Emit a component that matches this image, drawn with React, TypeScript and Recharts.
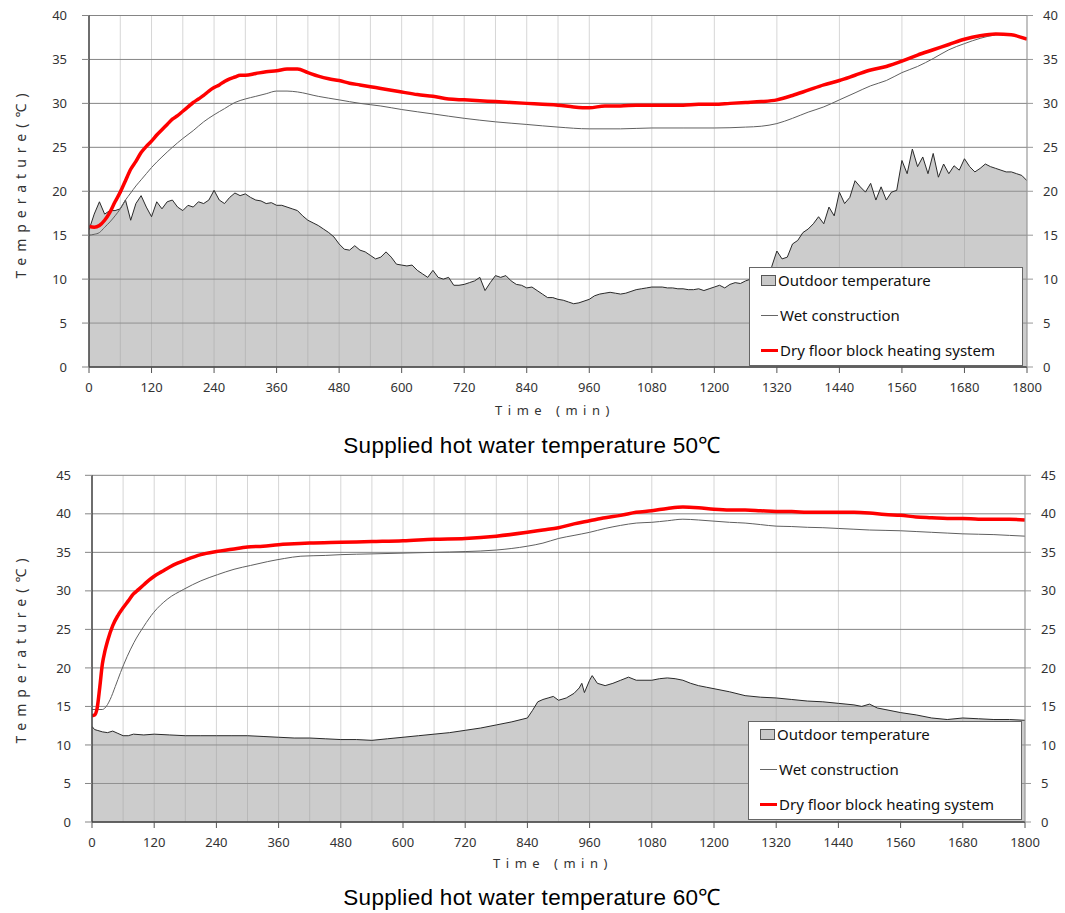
import React from 'react';
import { ComposedChart, Area, Line, XAxis, YAxis, CartesianGrid, Legend } from 'recharts';

// ---------- shared axis values ----------
const xTicks = [0, 120, 240, 360, 480, 600, 720, 840, 960, 1080, 1200, 1320, 1440, 1560, 1680, 1800];
const gridMinutes = [0, 60, 120, 180, 240, 300, 360, 420, 480, 540, 600, 660, 720, 780, 840, 900, 960, 1020,
  1080, 1140, 1200, 1260, 1320, 1380, 1440, 1500, 1560, 1620, 1680, 1740, 1800];
const topYTicks = [0, 5, 10, 15, 20, 25, 30, 35, 40];
const bottomYTicks = [0, 5, 10, 15, 20, 25, 30, 35, 40, 45];

const seriesNames = ['Outdoor temperature', 'Wet construction', 'Dry floor block heating system'];
const titles = ['Supplied hot water temperature 50℃', 'Supplied hot water temperature 60℃'];

// ---------- 50℃ panel ----------
// outdoor temperature sampled every 10 min from 0 to 1800
const TOP_OUTDOOR_STEP = 10;
const topOutdoor = [
  15.6, 17.4, 18.8, 17.4, 17.8, 17.8, 18.0, 19.0, 16.7, 18.6,
  19.5, 18.2, 17.1, 18.8, 18.0, 18.8, 19.0, 18.2, 17.8, 18.4,
  18.2, 18.8, 18.6, 19.0, 20.1, 19.0, 18.6, 19.3, 19.8, 19.5,
  19.7, 19.3, 19.0, 18.9, 18.6, 18.7, 18.4, 18.4, 18.2, 18.0,
  17.8, 17.2, 16.7, 16.4, 16.1, 15.7, 15.3, 14.8, 14.0, 13.4,
  13.3, 13.8, 13.3, 13.1, 12.7, 12.3, 12.5, 13.1, 12.5, 11.7,
  11.6, 11.5, 11.6, 11.0, 10.6, 10.2, 11.0, 10.2, 10.0, 10.2,
  9.3, 9.3, 9.4, 9.6, 9.8, 10.2, 8.7, 9.6, 10.4, 10.2,
  10.4, 9.8, 9.4, 9.3, 9.0, 9.1, 8.7, 8.3, 7.9, 7.9,
  7.7, 7.6, 7.4, 7.2, 7.3, 7.5, 7.7, 8.1, 8.3, 8.4,
  8.5, 8.4, 8.3, 8.4, 8.6, 8.8, 8.9, 9.0, 9.1, 9.1,
  9.1, 9.0, 9.0, 8.9, 8.9, 8.8, 8.8, 8.9, 8.7, 8.9,
  9.1, 9.3, 9.0, 9.4, 9.6, 9.5, 9.8, 10.0, 10.2, 10.5,
  10.8, 11.4, 13.2, 12.3, 12.5, 14.0, 14.4, 15.3, 15.7, 16.3,
  17.1, 16.3, 18.2, 17.2, 19.9, 18.6, 19.3, 21.2, 20.5, 19.9,
  20.9, 19.0, 20.5, 19.0, 19.9, 20.1, 23.5, 22.0, 24.8, 22.8,
  23.9, 22.0, 24.3, 21.6, 23.1, 22.0, 22.9, 22.4, 23.7, 22.8,
  22.2, 22.6, 23.1, 22.8, 22.6, 22.4, 22.2, 22.2, 22.0, 21.8,
  21.2,
];

const topWet: [number, number][] = [
  [0, 15.0], [10, 15.1], [20, 15.3], [30, 15.9], [40, 16.5], [50, 17.2], [60, 18.0], [70, 19.0],
  [80, 19.8], [90, 20.6], [100, 21.3], [110, 22.0], [120, 22.7], [140, 23.9], [160, 25.0], [180, 26.0],
  [200, 26.9], [220, 27.9], [240, 28.7], [260, 29.4], [280, 30.1], [300, 30.5], [320, 30.8], [340, 31.1],
  [360, 31.4], [380, 31.4], [400, 31.3], [440, 30.8], [480, 30.4], [520, 30.0], [560, 29.7], [600, 29.3],
  [660, 28.8], [720, 28.3], [780, 27.9], [840, 27.6], [900, 27.3], [960, 27.1], [1020, 27.1], [1080, 27.2],
  [1140, 27.2], [1200, 27.2], [1260, 27.3], [1290, 27.4], [1320, 27.7], [1350, 28.3], [1380, 29.0],
  [1410, 29.6], [1440, 30.4], [1470, 31.2], [1500, 32.0], [1530, 32.6], [1560, 33.5], [1590, 34.2],
  [1620, 35.1], [1650, 36.1], [1680, 36.8], [1710, 37.4], [1740, 37.8], [1760, 37.9], [1780, 37.7], [1800, 37.4],
];

const topDry: [number, number][] = [
  [0, 16.0], [10, 15.9], [20, 16.1], [30, 16.7], [40, 17.6], [50, 18.8], [60, 19.9], [70, 21.2],
  [80, 22.5], [90, 23.4], [100, 24.4], [110, 25.1], [120, 25.7], [130, 26.4], [140, 27.0], [150, 27.6],
  [160, 28.2], [170, 28.6], [180, 29.1], [190, 29.6], [200, 30.1], [210, 30.5], [220, 30.9], [230, 31.4],
  [240, 31.8], [250, 32.1], [260, 32.5], [270, 32.8], [280, 33.0], [290, 33.2], [300, 33.2], [320, 33.4],
  [340, 33.6], [360, 33.7], [380, 33.9], [400, 33.9], [420, 33.5], [440, 33.1], [460, 32.8], [480, 32.6],
  [500, 32.3], [520, 32.1], [540, 31.9], [560, 31.7], [580, 31.5], [600, 31.3], [630, 31.0], [660, 30.8],
  [690, 30.5], [720, 30.4], [750, 30.3], [780, 30.2], [810, 30.1], [840, 30.0], [870, 29.9], [900, 29.8],
  [930, 29.6], [960, 29.5], [990, 29.7], [1020, 29.7], [1050, 29.8], [1080, 29.8], [1110, 29.8], [1140, 29.8],
  [1170, 29.9], [1200, 29.9], [1230, 30.0], [1260, 30.1], [1290, 30.2], [1320, 30.4], [1350, 30.9],
  [1380, 31.5], [1410, 32.1], [1440, 32.6], [1470, 33.2], [1500, 33.8], [1530, 34.2], [1560, 34.8],
  [1590, 35.5], [1620, 36.1], [1650, 36.7], [1680, 37.3], [1710, 37.7], [1740, 37.9], [1770, 37.8], [1800, 37.3],
];

// ---------- 60℃ panel ----------
const bottomOutdoor: [number, number][] = [
  [0, 12.4], [5, 12.0], [10, 11.9], [20, 11.7], [30, 11.6], [40, 11.8], [50, 11.5], [60, 11.2],
  [70, 11.2], [80, 11.4], [100, 11.3], [120, 11.4], [150, 11.3], [180, 11.2], [210, 11.2], [240, 11.2],
  [270, 11.2], [300, 11.2], [330, 11.1], [360, 11.0], [390, 10.9], [420, 10.9], [450, 10.8], [480, 10.7],
  [510, 10.7], [540, 10.6], [570, 10.8], [600, 11.0], [630, 11.2], [660, 11.4], [690, 11.6], [720, 11.9],
  [750, 12.2], [780, 12.6], [810, 13.0], [840, 13.5], [850, 14.5], [860, 15.6], [870, 15.9], [880, 16.1],
  [890, 16.3], [900, 15.8], [915, 16.1], [930, 16.7], [940, 17.4], [945, 18.0], [950, 16.8], [960, 18.4],
  [965, 19.0], [975, 18.0], [990, 17.7], [1005, 18.0], [1020, 18.4], [1035, 18.8], [1050, 18.4],
  [1065, 18.4], [1080, 18.4], [1095, 18.6], [1110, 18.7], [1125, 18.6], [1140, 18.4], [1155, 18.0],
  [1170, 17.7], [1185, 17.5], [1200, 17.3], [1230, 16.9], [1260, 16.4], [1290, 16.2], [1320, 16.1],
  [1350, 15.9], [1380, 15.7], [1410, 15.6], [1440, 15.4], [1470, 15.2], [1485, 15.0], [1500, 15.3],
  [1515, 14.8], [1530, 14.6], [1560, 14.2], [1590, 13.9], [1620, 13.5], [1650, 13.3], [1680, 13.5],
  [1710, 13.4], [1740, 13.3], [1770, 13.3], [1800, 13.2],
];

const bottomWet: [number, number][] = [
  [0, 14.6], [10, 14.6], [20, 14.6], [25, 14.8], [35, 15.9], [45, 17.6], [55, 19.4], [68, 21.5],
  [81, 23.3], [100, 25.4], [119, 27.2], [145, 28.9], [177, 30.2], [210, 31.3], [242, 32.1], [274, 32.8],
  [306, 33.3], [339, 33.8], [371, 34.2], [403, 34.5], [450, 34.6], [480, 34.7], [540, 34.8], [600, 34.9],
  [660, 35.0], [720, 35.1], [780, 35.3], [840, 35.8], [870, 36.2], [900, 36.8], [930, 37.2], [960, 37.6],
  [990, 38.1], [1020, 38.5], [1050, 38.8], [1080, 38.9], [1110, 39.1], [1140, 39.3], [1170, 39.2],
  [1200, 39.05], [1230, 38.9], [1260, 38.8], [1290, 38.6], [1320, 38.4], [1350, 38.35], [1380, 38.25],
  [1410, 38.2], [1440, 38.1], [1470, 38.0], [1500, 37.9], [1530, 37.85], [1560, 37.8], [1590, 37.7],
  [1620, 37.6], [1650, 37.5], [1680, 37.4], [1710, 37.35], [1740, 37.3], [1770, 37.2], [1800, 37.1],
];

const bottomDry: [number, number][] = [
  [0, 13.8], [5, 13.9], [10, 14.8], [15, 17.5], [20, 20.5], [25, 22.2], [30, 23.5], [40, 25.5],
  [50, 26.8], [60, 27.8], [70, 28.7], [80, 29.6], [90, 30.2], [100, 30.8], [110, 31.4], [120, 31.9],
  [135, 32.5], [150, 33.1], [165, 33.6], [180, 34.0], [210, 34.7], [240, 35.1], [270, 35.4], [300, 35.7],
  [330, 35.8], [360, 36.0], [390, 36.1], [420, 36.2], [480, 36.3], [540, 36.4], [600, 36.5], [660, 36.7],
  [720, 36.8], [780, 37.1], [840, 37.6], [870, 37.9], [900, 38.2], [930, 38.7], [960, 39.1], [990, 39.5],
  [1020, 39.8], [1050, 40.2], [1080, 40.4], [1110, 40.7], [1140, 40.9], [1170, 40.8], [1200, 40.6],
  [1230, 40.5], [1260, 40.5], [1290, 40.4], [1320, 40.3], [1350, 40.3], [1380, 40.2], [1410, 40.2],
  [1440, 40.2], [1470, 40.2], [1500, 40.1], [1530, 39.9], [1560, 39.8], [1590, 39.6], [1620, 39.5],
  [1650, 39.4], [1680, 39.4], [1710, 39.3], [1740, 39.3], [1770, 39.3], [1800, 39.2],
];

type Pt = { t: number; v: number };
const fromPairs = (pairs: [number, number][]): Pt[] => pairs.map(([t, v]) => ({ t, v }));
const fromSteps = (vals: number[], step: number): Pt[] => vals.map((v, i) => ({ t: i * step, v }));

const TICK_FONT = { fontFamily: '"Noto Sans", sans-serif', fontSize: 13, fill: '#333' };

function LegendBox() {
  const row = (y: number): React.CSSProperties => ({
    position: 'absolute', left: 0, top: y - 11, height: 22, display: 'flex', alignItems: 'center',
  });
  const text: React.CSSProperties = {
    fontFamily: '"Noto Sans", sans-serif', fontSize: 15, color: '#111', marginLeft: 2, whiteSpace: 'nowrap',
  };
  return (
    <div style={{ position: 'relative', width: 274, height: 99, background: '#fff', border: '1px solid #666', boxSizing: 'border-box' }}>
      <div style={{ ...row(12), left: 11 }}>
        <div style={{ width: 15, height: 11, background: '#c8c8c8', border: '1px solid #555', boxSizing: 'border-box' }} />
        <span style={text}>{seriesNames[0]}</span>
      </div>
      <div style={{ ...row(47), left: 11 }}>
        <div style={{ width: 17, height: 1, background: '#666' }} />
        <span style={text}>{seriesNames[1]}</span>
      </div>
      <div style={{ ...row(82), left: 11 }}>
        <div style={{ width: 17, height: 3, background: '#ff0000' }} />
        <span style={text}>{seriesNames[2]}</span>
      </div>
    </div>
  );
}

type PanelProps = {
  outdoor: Pt[]; wet: Pt[]; dry: Pt[];
  yMax: number; yTicks: number[];
  marginTop: number; leftW: number; rightW: number;
  leftTickMargin: number;
  legendLeft: number; legendTop: number;
};

function Panel(p: PanelProps) {
  return (
    <ComposedChart width={1065} height={420} margin={{ top: p.marginTop, right: 0, bottom: 23, left: 0 }}>
      <CartesianGrid horizontal={false} stroke="#d6d6d6" verticalValues={gridMinutes} />
      <CartesianGrid vertical={false} stroke="#858585" />
      <XAxis
        dataKey="t" type="number" domain={[0, 1800]} ticks={xTicks} allowDataOverflow
        height={30} tickSize={6} tickMargin={10}
        axisLine={{ stroke: '#444', strokeWidth: 1.5 }} tickLine={{ stroke: '#555' }}
        tick={TICK_FONT}
      />
      <YAxis
        type="number" domain={[0, p.yMax]} ticks={p.yTicks} allowDataOverflow
        width={p.leftW} tickSize={7} tickMargin={p.leftTickMargin}
        axisLine={{ stroke: '#444', strokeWidth: 1.5 }} tickLine={{ stroke: '#858585' }}
        tick={TICK_FONT}
      />
      <YAxis
        yAxisId="right" orientation="right" type="number" domain={[0, p.yMax]} ticks={p.yTicks} allowDataOverflow
        width={p.rightW} tickSize={6} tickMargin={10}
        axisLine={{ stroke: '#999' }} tickLine={{ stroke: '#999' }}
        tick={{ ...TICK_FONT, textAnchor: 'start' }}
      />
      <Area
        data={p.outdoor} dataKey="v" name={seriesNames[0]} type="linear"
        stroke="#2a2a2a" strokeWidth={1} fill="#999999" fillOpacity={0.5}
        isAnimationActive={false} dot={false} activeDot={false}
      />
      <Line
        data={p.wet} dataKey="v" name={seriesNames[1]} type="monotone"
        stroke="#606060" strokeWidth={1} dot={false} activeDot={false} isAnimationActive={false}
      />
      <Line
        data={p.dry} dataKey="v" name={seriesNames[2]} type="monotone"
        stroke="#ff0000" strokeWidth={3.5} dot={false} activeDot={false} isAnimationActive={false}
      />
      <Legend
        layout="horizontal" verticalAlign="middle" align="center"
        wrapperStyle={{ left: p.legendLeft, top: p.legendTop, width: 274, height: 99 }}
        content={() => <LegendBox />}
      />
    </ComposedChart>
  );
}

const abs = (cx: number, cy: number, extra: React.CSSProperties = {}, rotate = false): React.CSSProperties => ({
  position: 'absolute', left: cx, top: cy, whiteSpace: 'nowrap',
  transform: `translate(-50%, -50%)${rotate ? ' rotate(-90deg)' : ''}`, ...extra,
});

const axisLabelStyle: React.CSSProperties = {
  fontFamily: '"Noto Sans", sans-serif', fontSize: 13, color: '#333',
};
const yLabelStyle: React.CSSProperties = {
  fontFamily: '"Noto Sans", sans-serif', fontSize: 14, color: '#333', letterSpacing: 6,
};
const titleStyle: React.CSSProperties = {
  fontFamily: '"Liberation Sans", Arial, sans-serif', fontSize: 22.5, color: '#000', letterSpacing: 0.3,
};

export default function App() {
  return (
    <div style={{ position: 'absolute', left: 0, top: 0, width: 1065, height: 913, background: '#fff', overflow: 'hidden' }}>
      <div style={{ position: 'absolute', left: 0, top: 0 }}>
        <Panel
          outdoor={fromSteps(topOutdoor, TOP_OUTDOOR_STEP)} wet={fromPairs(topWet)} dry={fromPairs(topDry)}
          yMax={40} yTicks={topYTicks} marginTop={15.5} leftW={89} rightW={38} leftTickMargin={15}
          legendLeft={749} legendTop={267}
        />
      </div>
      <div style={{ position: 'absolute', left: 0, top: 455 }}>
        <Panel
          outdoor={fromPairs(bottomOutdoor)} wet={fromPairs(bottomWet)} dry={fromPairs(bottomDry)}
          yMax={45} yTicks={bottomYTicks} marginTop={20.3} leftW={92} rightW={40} leftTickMargin={14}
          legendLeft={748} legendTop={266}
        />
      </div>
      <div style={abs(20, 183, yLabelStyle, true)}>Temperature(℃)</div>
      <div style={abs(20, 648, yLabelStyle, true)}>Temperature(℃)</div>
      <div style={abs(555, 410, { ...axisLabelStyle, letterSpacing: 5.5 })}>Time (min)</div>
      <div style={abs(553, 863, { ...axisLabelStyle, letterSpacing: 5.5 })}>Time (min)</div>
      <div style={abs(532, 444, titleStyle)}>{titles[0]}</div>
      <div style={abs(532, 896, titleStyle)}>{titles[1]}</div>
    </div>
  );
}
